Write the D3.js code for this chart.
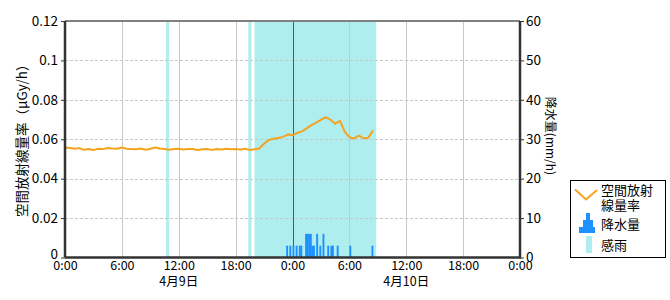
<!DOCTYPE html>
<html><head><meta charset="utf-8">
<script src="https://cdn.jsdelivr.net/npm/d3@7"></script>
<style>
html,body{margin:0;padding:0;background:#fff;}
svg text{font-family:"Noto Sans CJK JP","Noto Sans",sans-serif;fill:#000;}
</style></head>
<body><svg id="c" width="670" height="300"></svg>
<script>
// ---- data ----
const domainStart = "2024-04-09 00:00";
const domainEnd = "2024-04-11 00:00";
const xTickLabels = ["0:00","6:00","12:00","18:00","0:00","6:00","12:00","18:00","0:00"];
const dateLabels = [{t:"2024-04-09 12:00", label:"4月9日"},{t:"2024-04-10 12:00", label:"4月10日"}];
const leftTicks = [0,0.02,0.04,0.06,0.08,0.1,0.12];
const rightTicks = [0,10,20,30,40,50,60];

const doseStart = "2024-04-09 00:00";
const doseStepMin = 30;
const doseValues = [
0.0558,0.0556,0.0552,0.0555,0.0547,0.0551,0.0545,0.0552,0.0550,0.0556,
0.0553,0.0552,0.0558,0.0552,0.0551,0.0549,0.0553,0.0547,0.0552,0.0558,
0.0553,0.0550,0.0547,0.0551,0.0552,0.0548,0.0550,0.0551,0.0545,0.0549,
0.0551,0.0546,0.0550,0.0548,0.0552,0.0549,0.0550,0.0548,0.0552,0.0545,
0.0549,0.0553,0.0578,0.0596,0.0602,0.0606,0.0612,0.0624,0.0621,0.0632,
0.0640,0.0655,0.0672,0.0684,0.0698,0.0712,0.0700,0.0678,0.0694,0.0640,
0.0610,0.0604,0.0619,0.0605,0.0608,0.0645];

const rainTimes = ["2024-04-09 23:20","2024-04-09 23:40","2024-04-10 00:00","2024-04-10 00:20",
"2024-04-10 00:40","2024-04-10 00:50","2024-04-10 01:20","2024-04-10 01:30","2024-04-10 01:40",
"2024-04-10 01:50","2024-04-10 02:00","2024-04-10 02:10","2024-04-10 02:30","2024-04-10 02:50",
"2024-04-10 03:10","2024-04-10 03:40","2024-04-10 04:00","2024-04-10 04:10","2024-04-10 04:40",
"2024-04-10 06:00","2024-04-10 08:20"];
const rainValues = [3,3,3,3,3,3,6,6,6,6,3,3,6,3,6,3,3,3,3,3,3];

const senseStart = ["2024-04-09 10:40","2024-04-09 19:20","2024-04-09 20:00"];
const senseEnd   = ["2024-04-09 11:00","2024-04-09 19:40","2024-04-10 08:50"];

// ---- layout ----
const L=65, R=520, T=21, B=257.5;
const parse = d3.timeParse("%Y-%m-%d %H:%M");
const svg = d3.select("#c");
const x = d3.scaleTime().domain([parse(domainStart), parse(domainEnd)]).range([L,R]);
const yL = d3.scaleLinear().domain([0,0.12]).range([B,T]);
const yR = d3.scaleLinear().domain([0,60]).range([B,T]);

svg.append("rect").attr("width",670).attr("height",300).attr("fill","#fff");

// sensing bands
svg.append("g").selectAll("rect").data(senseStart.map((s,i)=>({s:parse(s),e:parse(senseEnd[i])})))
  .join("rect").attr("x",d=>x(d.s)).attr("y",T).attr("width",d=>x(d.e)-x(d.s)).attr("height",B-T)
  .attr("fill","#afeeee");

// grid
const xTicks = d3.timeHour.every(6).range(parse(domainStart), d3.timeMinute.offset(parse(domainEnd),1));
svg.append("g").selectAll("line").data(xTicks.slice(1,-1)).join("line")
  .attr("x1",d=>Math.round(x(d))+0.5).attr("x2",d=>Math.round(x(d))+0.5).attr("y1",T).attr("y2",B)
  .attr("stroke",d=>d.getHours()===0?"#555":"#c8c8c8").attr("stroke-width",1);
svg.append("g").selectAll("line").data(leftTicks.slice(1,-1)).join("line")
  .attr("x1",L).attr("x2",R).attr("y1",d=>Math.round(yL(d))+0.5).attr("y2",d=>Math.round(yL(d))+0.5)
  .attr("stroke","#c8c8c8").attr("stroke-dasharray","3,2");

// rain bars
const tenMin = 10*60*1000;
svg.append("g").selectAll("rect").data(rainTimes.map((t,i)=>({t:parse(t),v:rainValues[i]})))
  .join("rect").attr("x",d=>x(d.t)).attr("width",d=>x(new Date(+d.t+tenMin))-x(d.t)+0.3)
  .attr("y",d=>yR(d.v)).attr("height",d=>B-yR(d.v)).attr("fill","#1e90ff");

// dose line
const doseData = doseValues.map((v,i)=>({t:d3.timeMinute.offset(parse(doseStart), i*doseStepMin), v}));
svg.append("path").datum(doseData)
  .attr("d", d3.line().x(d=>x(d.t)).y(d=>yL(d.v)))
  .attr("fill","none").attr("stroke","#f5a31e").attr("stroke-width",2).attr("stroke-linejoin","round");

// frame
svg.append("line").attr("x1",L).attr("x2",R).attr("y1",T).attr("y2",T).attr("stroke","#808080").attr("stroke-width",2);

// axes
const axL = svg.append("g").attr("transform",`translate(${L},0)`)
  .call(d3.axisLeft(yL).tickValues(leftTicks).tickSize(4).tickPadding(3).tickFormat(d=>d===0?"0":String(d)));
const axR = svg.append("g").attr("transform",`translate(${R},0)`)
  .call(d3.axisRight(yR).tickValues(rightTicks).tickSize(4).tickPadding(2));
const axB = svg.append("g").attr("transform",`translate(0,${B})`)
  .call(d3.axisBottom(x).tickValues(xTicks).tickSize(0).tickPadding(4).tickFormat((d,i)=>xTickLabels[i]));
[axL,axR].forEach(a=>a.selectAll("text").style("font-size","13.5px"));
axB.selectAll("text").style("font-size","12.5px");
[axL,axR,axB].forEach(a=>{
  a.selectAll("text").attr("fill","#000");
  a.selectAll(".tick line").attr("stroke","#333");
  a.select(".domain").attr("stroke","#333").attr("stroke-width",2.5);
});
axL.select(".domain").attr("d",`M0,${T}V${B}`);
axR.select(".domain").attr("d",`M0,${T}V${B}`);
axB.select(".domain").attr("d",`M${L},0H${R+1}`);
axL.selectAll(".tick").filter(d=>d===0).select("text").attr("dy","0.1em");

// date labels
svg.append("g").selectAll("text").data(dateLabels).join("text")
  .attr("x",d=>x(parse(d.t))).attr("y",286).attr("text-anchor","middle")
  .style("font-size","12.5px").text(d=>d.label);

// axis titles
svg.append("text").attr("transform",`translate(27,${(T+B)/2-2}) rotate(-90)`).attr("text-anchor","middle")
  .style("font-size","13.5px").text("空間放射線量率（μGy/h）");
svg.append("text").attr("transform",`translate(546,136) rotate(90)`).attr("text-anchor","middle")
  .style("font-size","12px").text("降水量(mm/h)");

// legend
const lg = svg.append("g");
lg.append("rect").attr("x",570.5).attr("y",180.5).attr("width",95).attr("height",77).attr("fill","#fff").attr("stroke","#000");
lg.append("path").attr("d","M575,189.5L586,199.5L597,190").attr("fill","none").attr("stroke","#f5a31e").attr("stroke-width",2);
lg.append("text").attr("x",601).attr("y",195).style("font-size","13px").text("空間放射");
lg.append("text").attr("x",601).attr("y",210).style("font-size","13px").text("線量率");
lg.append("path").attr("d","M579,233V227H583V220H586V213H590V220H593V227H595V233Z").attr("fill","#1e90ff");
lg.append("text").attr("x",601).attr("y",229).style("font-size","13px").text("降水量");
lg.append("rect").attr("x",586).attr("y",236).attr("width",6).attr("height",17).attr("fill","#afeeee");
lg.append("text").attr("x",601).attr("y",250).style("font-size","13px").text("感雨");
</script></body></html>
